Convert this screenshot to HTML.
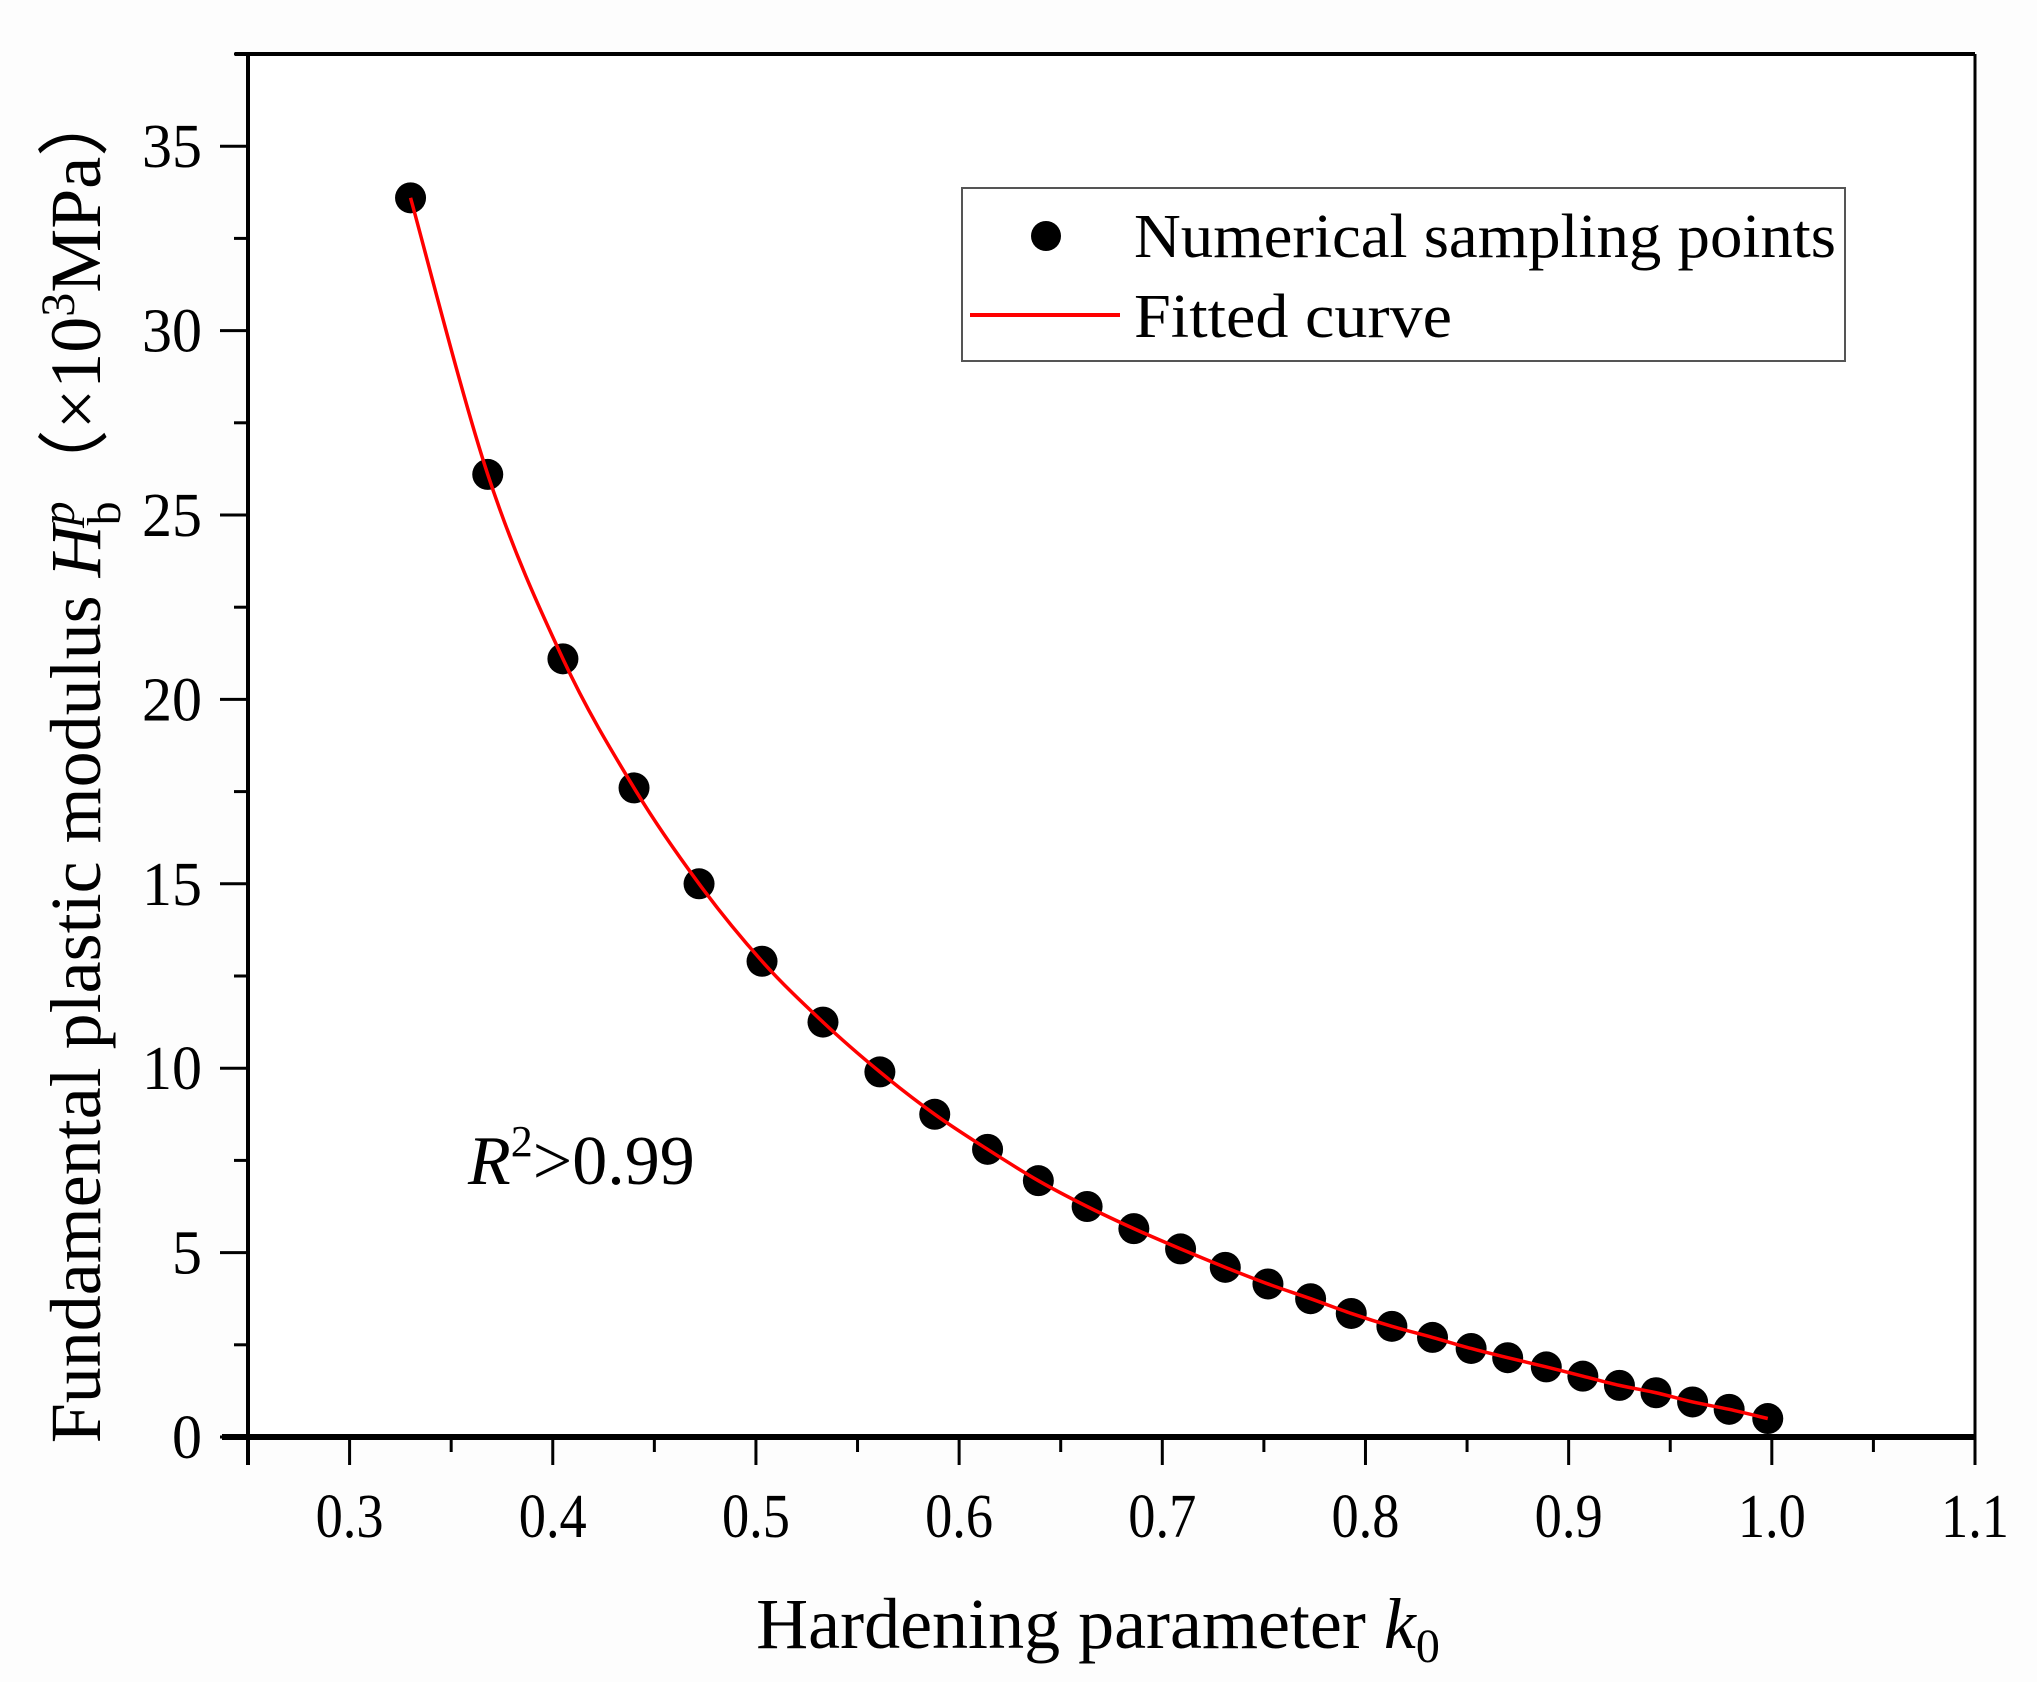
<!DOCTYPE html>
<html><head><meta charset="utf-8"><style>
html,body{margin:0;padding:0;background:#fdfdfd;}
svg{display:block;font-family:"Liberation Serif",serif;}
</style></head><body>
<svg id="chart" width="2037" height="1682" viewBox="0 0 2037 1682">
<rect x="0" y="0" width="2037" height="1682" fill="#fdfdfd"/>
<rect x="248" y="54" width="1727" height="1383" fill="#ffffff"/>
<g id="axes"></g>
<g id="series"></g>
<g>
<rect x="962" y="188" width="883" height="173" fill="#fff" stroke="#555" stroke-width="2"/>
<circle cx="1046" cy="236" r="15" fill="#000"/>
<text x="1134" y="257" font-size="62" textLength="702" lengthAdjust="spacingAndGlyphs">Numerical sampling points</text>
<line x1="970" y1="315" x2="1120" y2="315" stroke="#ff0000" stroke-width="4"/>
<text x="1134" y="337" font-size="62" textLength="318" lengthAdjust="spacingAndGlyphs">Fitted curve</text>
</g>
<text x="468" y="1184" font-size="70"><tspan font-style="italic">R</tspan><tspan font-size="44" dy="-28">2</tspan><tspan dy="28">&gt;0.99</tspan></text>
<text x="1098" y="1648" font-size="72" text-anchor="middle">Hardening parameter <tspan font-style="italic">k</tspan><tspan font-size="48" dy="14">0</tspan></text>
<text transform="translate(100,764) rotate(-90)" font-size="72" text-anchor="middle">Fundamental plastic modulus <tspan font-style="italic">H</tspan><tspan font-size="48" font-style="italic" dy="-26">p</tspan><tspan font-size="48" dx="-24" dy="46">b</tspan><tspan dy="-20">（×10</tspan><tspan font-size="48" dy="-26">3</tspan><tspan dy="26">MPa）</tspan></text>
</svg>
<script>
const xData = [0.330,0.368,0.405,0.440,0.472,0.503,0.533,0.561,0.588,0.614,0.639,0.663,0.686,0.709,0.731,0.752,0.773,0.793,0.813,0.833,0.852,0.870,0.889,0.907,0.925,0.943,0.961,0.979,0.998];
const yData = [33.6,26.1,21.1,17.6,15.0,12.9,11.25,9.9,8.75,7.8,6.95,6.25,5.65,5.1,4.6,4.15,3.75,3.35,3.0,2.7,2.4,2.15,1.9,1.65,1.4,1.2,0.95,0.75,0.5];
const xTicks = [0.3,0.4,0.5,0.6,0.7,0.8,0.9,1.0,1.1];
const xTickLabels = ["0.3","0.4","0.5","0.6","0.7","0.8","0.9","1.0","1.1"];
const yTicks = [0,5,10,15,20,25,30,35];
const yTickLabels = ["0","5","10","15","20","25","30","35"];
const NS="http://www.w3.org/2000/svg";
const X0=248,X1=1975,Y0=1437,Y1=54;
const xMin=0.25,xMax=1.1,yMin=0,yMax=37.5;
function sx(v){return X0+(v-xMin)/(xMax-xMin)*(X1-X0);}
function sy(v){return Y0-(v-yMin)/(yMax-yMin)*(Y0-Y1);}
function mk(t,a,p){const e=document.createElementNS(NS,t);for(const k in a)e.setAttribute(k,a[k]);p.appendChild(e);return e;}
const axes=document.getElementById('axes');
const series=document.getElementById('series');
let l;
l=mk('line',{x1:235,y1:Y1,x2:X1,y2:Y1,stroke:'#000','stroke-width':4},axes);


l=mk('line',{x1:X1,y1:Y1,x2:X1,y2:Y0+28,stroke:'#000','stroke-width':3},axes);


l=mk('line',{x1:X0,y1:Y1,x2:X0,y2:Y0+28,stroke:'#000','stroke-width':4},axes);


l=mk('line',{x1:222,y1:Y0,x2:X1,y2:Y0,stroke:'#000','stroke-width':6},axes);


for(let v=0.25;v<=1.1001;v+=0.05){
  const major=Math.abs(v*10-Math.round(v*10))<1e-6;
  const t=mk('line',{x1:sx(v),y1:Y0,x2:sx(v),y2:Y0+(major?28:15),stroke:'#000','stroke-width':3},axes);
  
  
}
xTicks.forEach((v,i)=>{
  const t=mk('text',{x:sx(v),y:1537,'font-size':62,'text-anchor':'middle',textLength:68,lengthAdjust:'spacingAndGlyphs'},axes);
  t.textContent=xTickLabels[i];
  
  
});
for(let v=0;v<=37.5;v+=2.5){
  const major=Math.abs(v/5-Math.round(v/5))<1e-6;
  const t=mk('line',{x1:X0-(major?28:14),y1:sy(v),x2:X0,y2:sy(v),stroke:'#000','stroke-width':3},axes);
  
  
}
yTicks.forEach((v,i)=>{
  const len=yTickLabels[i].length*30;
  const t=mk('text',{x:202,y:sy(v)+21,'font-size':62,'text-anchor':'end',textLength:len,lengthAdjust:'spacingAndGlyphs'},axes);
  t.textContent=yTickLabels[i];
  
  
});
xData.forEach((v,i)=>{
  const c=mk('circle',{cx:sx(v),cy:sy(yData[i]),r:15.5,fill:'#000'},series);
  
  
});
const P=xData.map((v,i)=>[sx(v),sy(yData[i])]);
let d='M'+P[0][0]+','+P[0][1];
for(let i=0;i<P.length-1;i++){
  const p0=P[Math.max(0,i-1)],p1=P[i],p2=P[i+1],p3=P[Math.min(P.length-1,i+2)];
  const c1=[p1[0]+(p2[0]-p0[0])/6,p1[1]+(p2[1]-p0[1])/6];
  const c2=[p2[0]-(p3[0]-p1[0])/6,p2[1]-(p3[1]-p1[1])/6];
  d+=' C'+c1[0]+','+c1[1]+' '+c2[0]+','+c2[1]+' '+p2[0]+','+p2[1];
}
const path=mk('path',{d:d,fill:'none',stroke:'#ff0000','stroke-width':3.5},series);


</script>
</body></html>
